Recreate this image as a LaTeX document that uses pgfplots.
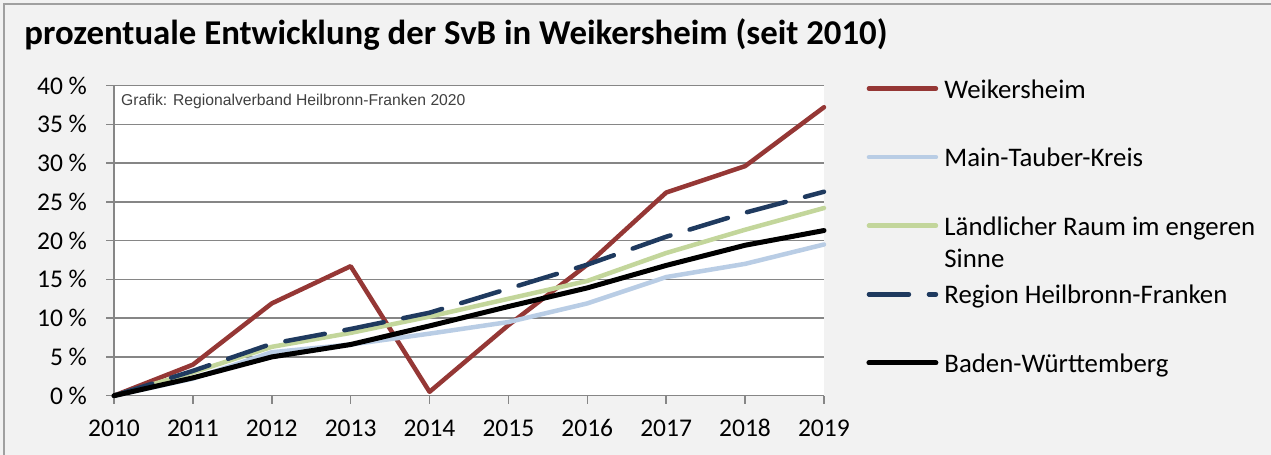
\documentclass[border=0pt]{standalone}
\usepackage{fontspec}
\setmainfont{Carlito}
\newfontfamily\arialfont{Liberation Sans}
\usepackage{pgfplots}
\pgfplotsset{compat=1.18}
\definecolor{bgc}{HTML}{F2F2F2}
\definecolor{framec}{RGB}{160,160,160}
\definecolor{gridc}{RGB}{134,134,134}
\definecolor{cred}{HTML}{953735}
\definecolor{cblue}{HTML}{B9CDE5}
\definecolor{cgreen}{HTML}{C3D69B}
\definecolor{cnavy}{HTML}{1F3A5F}
\begin{document}
\begin{tikzpicture}
\fill[bgc] (0,0) rectangle (635.5pt,227.5pt);
\useasboundingbox (0,0) rectangle (635.5pt,227.5pt);
\draw[framec, line width=1pt] (2pt,0pt) -- (2pt,225.5pt) -- (635.5pt,225.5pt);
\node[anchor=base west, inner sep=0pt, font=\fontsize{17.4pt}{20pt}\selectfont\bfseries] at (12pt,205pt) {prozentuale Entwicklung der SvB in Weikersheim (seit 2010)};
\begin{axis}[
  at={(57pt,29.65pt)}, anchor=south west,
  width=355pt, height=155.1pt, scale only axis,
  xmin=2010, xmax=2019, ymin=0, ymax=40,
  clip=false,
  axis background/.style={fill=white},
  axis x line*=bottom, axis y line*=left,
  axis line style={gridc, line width=0.75pt},
  every axis plot/.append style={line cap=round, line join=round},
  xtick={2010,...,2019},
  ytick={0,5,...,40},
  yticklabels={0 \%,5 \%,10 \%,15 \%,20 \%,25 \%,30 \%,35 \%,40 \%},
  /pgf/number format/assume math mode=true,
  /pgf/number format/1000 sep={},
  tick align=outside,
  major tick length=4pt,
  tick style={gridc, line width=0.75pt},
  ymajorgrids,
  major grid style={gridc, line width=0.75pt},
  ticklabel style={font=\fontsize{12.75pt}{15pt}\selectfont},
  x tick label style={yshift=-4.6pt, text height=8.5pt, text depth=0pt},
  y tick label style={xshift=-6pt},
  legend cell align=left,
  legend image code/.code={\draw[#1] (0pt,0pt) -- (33.5pt,0pt);},
  legend style={
    at={(axis description cs:1.0592,1.032)}, anchor=north west,
    draw=none, fill=none, inner sep=0pt,
    row sep=21.65pt, column sep=3pt,
    font=\fontsize{13.4pt}{15.9pt}\selectfont,
    nodes={inner sep=0pt}
  },
]
\addplot[cred, line width=2.25pt] coordinates {(2010,0) (2011,4.0) (2012,11.9) (2013,16.7) (2014,0.5) (2015,9.1) (2016,16.9) (2017,26.2) (2018,29.6) (2019,37.2)};
\addlegendentry{\strut Weikersheim}
\addplot[cblue, line width=2.25pt] coordinates {(2010,0) (2011,2.2) (2012,5.6) (2013,6.6) (2014,8.0) (2015,9.5) (2016,11.9) (2017,15.3) (2018,17.0) (2019,19.5)};
\addlegendentry{\strut Main-Tauber-Kreis}
\addplot[cgreen, line width=2.25pt] coordinates {(2010,0) (2011,3.0) (2012,6.3) (2013,8.1) (2014,10.2) (2015,12.5) (2016,14.8) (2017,18.4) (2018,21.4) (2019,24.2)};
\addlegendentry{\strut\raisebox{0pt}[\height][0pt]{\vtop{\hbox{Ländlicher Raum im engeren}\hbox{Sinne}}}}
\addplot[cnavy, line width=2.25pt, dash pattern=on 20pt off 10pt] coordinates {(2010,0) (2011,3.2) (2012,6.7) (2013,8.6) (2014,10.7) (2015,13.8) (2016,16.9) (2017,20.5) (2018,23.6) (2019,26.3)};
\addlegendentry{\strut Region Heilbronn-Franken}
\addplot[black, line width=2.5pt] coordinates {(2010,0) (2011,2.3) (2012,5.0) (2013,6.6) (2014,9.0) (2015,11.5) (2016,13.9) (2017,16.8) (2018,19.4) (2019,21.3)};
\addlegendentry{\strut Baden-Württemberg}
\node[anchor=base west, inner sep=0pt, font=\arialfont\fontsize{7.85pt}{9pt}\selectfont, text=black!75] at (axis description cs:0.0094,0.934) {Grafik: Regionalverband Heilbronn-Franken 2020};
\end{axis}
\end{tikzpicture}
\end{document}
